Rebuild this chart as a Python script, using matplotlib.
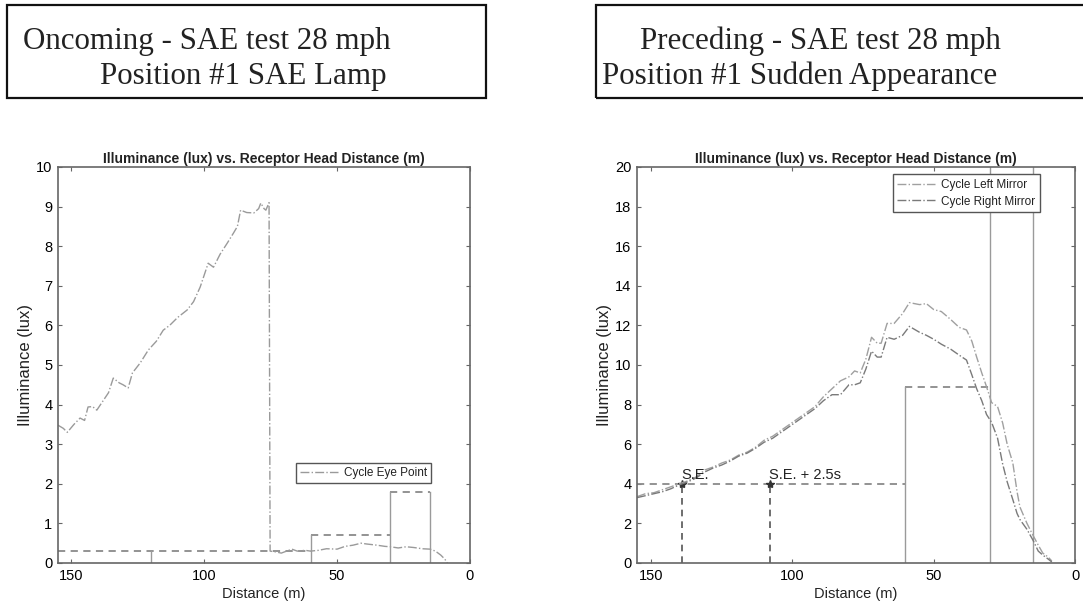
import numpy as np
import matplotlib
matplotlib.use("Agg")
import matplotlib.pyplot as plt
from matplotlib.patches import Rectangle

# ── data ──────────────────────────────────────────────────────────────────────
# left panel: oncoming, cycle eye point
eye_x = [155, 153, 151.5, 149, 146.7, 145, 143.7, 142, 140.4, 138, 136, 134.2,
         132, 130.5, 128.6, 127, 124.1, 121, 118, 115.4, 113, 110, 106.4, 104,
         101.5, 98.5, 96.5, 94, 91.3, 89, 87.5, 86.3, 84, 81.3, 79.5, 78.7,
         77.5, 76.8, 75.6, 75.2, 73, 71, 69, 67, 65, 62, 60, 57, 54, 50, 47,
         44, 41, 38.9, 35, 32, 30, 27, 24, 21, 18, 15, 13, 11, 9.5, 8.5]
eye_y = [3.48, 3.4, 3.3, 3.5, 3.66, 3.6, 3.94, 3.95, 3.86, 4.1, 4.3, 4.67,
         4.55, 4.5, 4.42, 4.8, 5.05, 5.38, 5.6, 5.88, 6.0, 6.2, 6.39, 6.6,
         6.97, 7.57, 7.47, 7.8, 8.08, 8.33, 8.5, 8.91, 8.85, 8.84, 8.95, 9.09,
         8.95, 8.91, 9.1, 0.3, 0.28, 0.25, 0.3, 0.35, 0.3, 0.32, 0.3, 0.32,
         0.36, 0.35, 0.42, 0.45, 0.5, 0.48, 0.45, 0.42, 0.41, 0.38, 0.41, 0.39,
         0.36, 0.35, 0.3, 0.2, 0.1, 0.0]
left_edges = [155, 60, 30, 15]          # SAE threshold step boundaries (m)
left_levels = [0.3, 0.7, 1.8]           # SAE threshold levels (lux)
left_mark_x = 120

# right panel: preceding, mirrors
mir_x = [155, 152, 149, 146, 143, 140, 137, 134, 131, 128, 125, 122, 119, 116,
         113, 110, 107, 104, 101, 98, 95, 92, 89, 86, 83, 80, 78, 76, 74, 72,
         70, 68.6, 66.5, 64, 61, 58.6, 55, 52.6, 50, 47.3, 44, 41, 38.4, 36.5,
         34.8, 33, 31.3, 29.5, 27.4, 25.6, 24, 22, 20.5, 19.5, 17, 14.9, 13,
         11.4, 9.5, 8.2]
left_mirror = [3.35, 3.5, 3.55, 3.7, 3.85, 4.0, 4.15, 4.35, 4.7, 4.85, 5.05,
               5.2, 5.45, 5.6, 5.85, 6.2, 6.4, 6.7, 7.0, 7.3, 7.6, 7.9, 8.4,
               8.8, 9.2, 9.4, 9.7, 9.6, 10.3, 11.4, 11.1, 11.1, 12.1, 12.1,
               12.6, 13.15, 13.05, 13.1, 12.8, 12.7, 12.3, 11.9, 11.77, 11.2,
               10.4, 9.6, 8.9, 8.1, 7.9, 7.07, 6.0, 5.05, 3.6, 2.83, 2.0, 1.41,
               0.9, 0.5, 0.3, 0.1]
right_mirror = [3.3, 3.4, 3.5, 3.6, 3.75, 3.95, 4.1, 4.3, 4.6, 4.8, 4.95,
                5.15, 5.4, 5.55, 5.8, 6.1, 6.3, 6.6, 6.9, 7.2, 7.5, 7.8, 8.2,
                8.5, 8.5, 9.0, 9.0, 9.1, 9.8, 10.7, 10.4, 10.4, 11.4, 11.3,
                11.5, 11.95, 11.65, 11.5, 11.3, 11.05, 10.8, 10.5, 10.25, 9.5,
                8.8, 8.2, 7.5, 7.1, 6.3, 5.0, 4.1, 3.2, 2.5, 2.2, 1.7, 1.16,
                0.6, 0.4, 0.2, 0.05]
right_edges = [155, 60, 30]
right_levels = [4.0, 8.9]
right_full_x = [30, 15]
se_x = [139, 108]
se_y = 4.0
se_labels = ["S.E.", "S.E. + 2.5s"]

# ── style ─────────────────────────────────────────────────────────────────────
W, H = 1083, 613
SANS = "Liberation Sans"
SERIF = "Liberation Serif"
GRAY = "#8a8a8a"
plt.rcParams["font.family"] = SANS
plt.rcParams["text.color"] = "#222222"
plt.rcParams["axes.labelcolor"] = "#222222"

fig = plt.figure(figsize=(W / 100, H / 100), dpi=100)


def px(x0, y0, x1, y1):
    """pixel box (top-left origin) -> figure fraction rect"""
    return [x0 / W, 1 - y1 / H, (x1 - x0) / W, (y1 - y0) / H]


def style_axes(ax, ymax, ystep, ylab_x):
    ax.set_xlim(155, 0)
    ax.set_ylim(0, ymax)
    ax.set_xticks([150, 100, 50, 0])
    ax.set_yticks(np.arange(0, ymax + 0.1, ystep))
    ax.tick_params(direction="in", top=True, right=True, length=3,
                   width=0.8, color="#666666", labelsize=10.5, pad=4)
    for s in ax.spines.values():
        s.set_color("#666666")
        s.set_linewidth(1.2)
    ax.set_title("Illuminance (lux) vs. Receptor Head Distance (m)",
                 fontsize=10, fontweight="bold", pad=3)
    ax.set_xlabel("Distance (m)", fontsize=10.5, labelpad=3)
    ax.set_ylabel("Illuminance (lux)", fontsize=12)
    ax.yaxis.set_label_coords(ylab_x, 0.5)


def style_legend(leg):
    leg.get_frame().set_edgecolor("#555555")
    leg.get_frame().set_linewidth(1.0)


# ── heading boxes ─────────────────────────────────────────────────────────────
for (x0, x1) in [(7, 486), (596, 1100)]:
    fig.patches.append(Rectangle((x0 / W, 1 - 98 / H), (x1 - x0) / W, 93 / H,
                                 transform=fig.transFigure, fill=False,
                                 edgecolor="#111111", linewidth=1.6))
fig.text(23 / W, 1 - 49 / H, "Oncoming - SAE test 28 mph", family=SERIF,
         fontsize=22.3, va="baseline", ha="left")
fig.text(100 / W, 1 - 84 / H, "Position #1 SAE Lamp", family=SERIF,
         fontsize=22.3, va="baseline", ha="left")
fig.text(640 / W, 1 - 49 / H, "Preceding - SAE test 28 mph", family=SERIF,
         fontsize=22.3, va="baseline", ha="left")
fig.text(602 / W, 1 - 84 / H, "Position #1 Sudden Appearance", family=SERIF,
         fontsize=22.3, va="baseline", ha="left")

# ── left panel ────────────────────────────────────────────────────────────────
ax1 = fig.add_axes(px(58, 167, 470, 563))
for i, lvl in enumerate(left_levels):
    ax1.plot([left_edges[i], left_edges[i + 1]], [lvl, lvl], ls=(0, (4, 3)),
             color=GRAY, lw=1.3)
for i, xe in enumerate(left_edges[1:]):
    top = max(left_levels[i], left_levels[min(i + 1, len(left_levels) - 1)])
    ax1.plot([xe, xe], [0, top], color="#9a9a9a", lw=1.0)
ax1.plot([left_mark_x, left_mark_x], [0, left_levels[0]], color="#9a9a9a",
         lw=1.0)
ax1.plot(eye_x, eye_y, ls="-.", color="#9a9a9a", lw=1.0,
         label="Cycle Eye Point")
style_axes(ax1, 10, 1, -0.06)
style_legend(ax1.legend(loc="center right", bbox_to_anchor=(0.905, 0.227),
                        borderaxespad=0, fontsize=8.5, handlelength=3.2,
                        fancybox=False, framealpha=1, borderpad=0.35,
                        handletextpad=0.5))

# ── right panel ───────────────────────────────────────────────────────────────
ax2 = fig.add_axes(px(637, 167, 1075, 563))
for i, lvl in enumerate(right_levels):
    ax2.plot([right_edges[i], right_edges[i + 1]], [lvl, lvl], ls=(0, (4, 3)),
             color=GRAY, lw=1.3)
ax2.plot([right_edges[1], right_edges[1]], [0, right_levels[1]],
         color="#9a9a9a", lw=1.0)
for xe in right_full_x:
    ax2.plot([xe, xe], [0, 20], color="#9a9a9a", lw=1.0)
for xs, lab in zip(se_x, se_labels):
    ax2.plot([xs, xs], [0, se_y], ls=(0, (4, 3)), color="#555555", lw=1.2)
    ax2.plot(xs, se_y, marker="*", color="#333333", ms=6)
    ax2.text(xs + 0.3, se_y + 0.1, lab, fontsize=10.5, ha="left",
             va="bottom")
ax2.plot(mir_x, left_mirror, ls="-.", color="#a0a0a0", lw=1.0,
         label="Cycle Left Mirror")
ax2.plot(mir_x, right_mirror, ls="-.", color="#7a7a7a", lw=1.0,
         label="Cycle Right Mirror")
style_axes(ax2, 20, 2, -0.056)
style_legend(ax2.legend(loc="upper right", bbox_to_anchor=(0.92, 0.982),
                        borderaxespad=0, fontsize=8.5, handlelength=3.2,
                        fancybox=False, framealpha=1, borderpad=0.4,
                        handletextpad=0.5, labelspacing=0.4))

fig.savefig("out.png", dpi=100)
